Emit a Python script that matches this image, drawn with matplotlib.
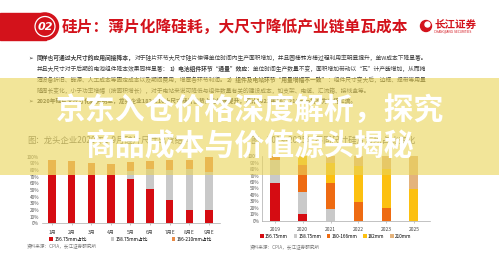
import matplotlib
matplotlib.use("Agg")
import matplotlib.pyplot as plt
from matplotlib.patches import Rectangle, Circle
import numpy as np

plt.rcParams['font.family'] = ['Noto Sans CJK SC', 'DejaVu Sans']

# left chart: monthly share of wafer sizes (%)
months = ["1月", "2月", "3月", "4月", "5月", "6月", "7月E", "8月E", "9月E"]
left_labels = ["156.75mm占比", "158.75mm占比", "166-210mm占比"]
left_156 = [72, 72, 72, 72, 66, 51, 35, 20, 20]
left_158 = [0, 0, 0, 0, 12, 30, 45, 62, 57]
left_166 = [23, 21, 18, 17, 14, 13, 15, 13, 22]

# right chart: yearly share of wafer sizes (%)
years = ["2019", "2020", "2021", "2022", "2023", "2025"]
right_labels = ["156.75mm", "158.75mm", "160-166mm", "182mm", "210mm"]
r_156 = [59, 10, 0, 0, 0, 0]
r_158 = [36, 35, 18, 0, 0, 0]
r_160 = [5, 41, 41, 29, 19, 0]
r_182 = [0, 14, 30, 56, 61, 50]
r_210 = [0, 0, 11, 15, 20, 50]

W, H = 499, 254
fig = plt.figure(figsize=(W / 100, H / 100), dpi=100)
fig.patch.set_facecolor("white")

RED = "#d50c12"
GRAY = "#c9c9c9"


def px_axes(x0, y_top, x1, y_bot, **kw):
    return fig.add_axes([x0 / W, 1 - y_bot / H, (x1 - x0) / W, (y_bot - y_top) / H], **kw)


# background layer in pixel units
bg = fig.add_axes([0, 0, 1, 1], zorder=-1)
bg.set_xlim(0, W)
bg.set_ylim(H, 0)
bg.axis("off")
bg.patch.set_alpha(0)

# header
bg.add_patch(Rectangle((0, 13), 46, 27, color="#d3121b"))
bg.add_patch(Circle((45, 26.5), 13.5, color="#d3121b"))
bg.add_patch(Circle((45, 26.5), 10, facecolor="none", edgecolor="white", lw=0.9))
bg.text(45, 27, "02", color="white", fontsize=8, fontweight="bold", style="italic",
        ha="center", va="center", family="DejaVu Sans")
bg.text(62, 27, "硅片：薄片化降硅耗，大尺寸降低产业链单瓦成本", color="#d3121b",
        fontsize=11.3, fontweight="bold", ha="left", va="center")
# logo
bg.add_patch(Circle((426, 26), 5.5, color="#d3121b"))
bg.add_patch(Circle((427.5, 24.5), 2.5, color="white"))
bg.text(434, 24.5, "长江证券", color="#d3121b", fontsize=7.6, ha="left", va="center",
        fontweight="bold")
bg.text(434, 32, "CHANGJIANG SECURITIES", color="#d3121b", fontsize=2.2, ha="left",
        va="center", family="DejaVu Sans")

renderer = fig.canvas.get_renderer()


def chain(x, y, parts, size=4.15, color="#3a3a3a"):
    for s, w in parts:
        t = bg.text(x, y, s, fontsize=size, fontweight=w, color=color, ha="left", va="center",
                    family=['Noto Sans CJK SC', 'DejaVu Sans'])
        x += t.get_window_extent(renderer=renderer).width


bg.text(28, 58, "➢", fontsize=4, color="#333333", va="center", family="DejaVu Sans")
chain(37, 58, [("同样也可通过大尺寸的应用间接降本，", "bold"),
               ("对于硅片环节大尺寸硅片使得单位时间内生产面积增加，并且圆棒转方棒过程利用率明显提升，单W成本下降显著。", "normal")])
chain(37, 69, [("并且大尺寸对于后期的电池组件降本效果同样显著：", "normal"),
               ("1）电池组件环节“通量”效应", "bold"),
               ("：单位时间生产数量不变，面积增加带动以“瓦”计产能增加，从而摊", "normal")])
chain(37, 80, [("薄设备折旧、能源、人工成本等固定成本以及期间费用，增厚各环节利润。", "normal"),
               ("2）组件及电站环节“用量增幅不一致”", "bold"),
               ("：组件尺寸变大后，边框、焊带等用量", "normal")])
chain(37, 90.5, [("随周长变化，小于功率增幅（按面积增长），对于电站来说可降低与组件数量有关的建设成本，如支架、电缆、汇流箱、接线盒等。", "normal")])
bg.text(28, 101, "➢", fontsize=4, color="#333333", va="center", family="DejaVu Sans")
chain(37, 101, [("2020年硅片大尺寸化趋势明显，龙头企业182/210大尺寸硅片出货占比快速提升，预计2022年182/210mm将成为市场主流。", "bold")])

bg.text(27, 140, "图：龙头企业2020年1-9月硅片尺寸出货结构", fontsize=6, color="#666666",
        va="center")
bg.text(250, 140, "图：2019-2025年不同尺寸硅片市场占比变化", fontsize=6, color="#666666",
        va="center")
bg.text(27, 247, "资料来源：CPIA，长江证券研究所", fontsize=3.3, color="#777777", va="center")
bg.text(250, 248, "资料来源：CPIA，长江证券研究所", fontsize=3.3, color="#777777", va="center")


def style(ax):
    ax.set_ylim(0, 100)
    ax.set_yticks(np.arange(0, 101, 10))
    ax.set_yticklabels([f"{v}%" for v in range(0, 101, 10)])
    ax.tick_params(axis="y", length=0, labelsize=3.4, labelcolor="#555555", pad=2)
    ax.tick_params(axis="x", length=1.5, width=0.4, color="#999999", labelsize=3.6,
                   labelcolor="#444444", pad=3)
    for s in ["top", "right"]:
        ax.spines[s].set_visible(False)
    ax.spines["bottom"].set_color("#aaaaaa")
    ax.spines["bottom"].set_linewidth(0.5)
    ax.patch.set_alpha(0)


# left chart
ax1 = px_axes(41.7, 156.7, 220, 223.3)
x1 = np.arange(len(months))
b1 = np.array(left_156)
b2 = b1 + np.array(left_158)
ax1.bar(x1, left_156, 0.38, color=RED, label=left_labels[0])
ax1.bar(x1, left_158, 0.38, bottom=b1, color=GRAY, label=left_labels[1])
ax1.bar(x1, left_166, 0.38, bottom=b2, color="#e98a45", label=left_labels[2])
ax1.set_xlim(-0.53, 8.57)
ax1.set_xticks(x1)
ax1.set_xticklabels(months)
style(ax1)
ax1.spines["left"].set_visible(False)
ax1.legend(loc="center", bbox_to_anchor=(0.5, -0.236), ncol=3, frameon=False,
           fontsize=3.4, handlelength=0.7, handleheight=0.7, handletextpad=0.4,
           columnspacing=5)

# right chart
ax2 = px_axes(262, 156.3, 430, 220.7)
x2 = np.arange(len(years))
series = [r_156, r_158, r_160, r_182, r_210]
colors = [RED, GRAY, "#ee6b12", "#fcc010", "#e4b37c"]
bottom = np.zeros(len(years))
for vals, c, lab in zip(series, colors, right_labels):
    ax2.bar(x2, vals, 0.33, bottom=bottom, color=c, label=lab)
    bottom += np.array(vals)
ax2.set_xlim(-0.47, 5.58)
ax2.set_xticks(x2)
ax2.set_xticklabels(years)
style(ax2)
ax2.spines["left"].set_color("#aaaaaa")
ax2.spines["left"].set_linewidth(0.5)
ax2.legend(loc="center", bbox_to_anchor=(0.44, -0.24), ncol=5, frameon=False,
           fontsize=3.4, handlelength=0.7, handleheight=0.7, handletextpad=0.3,
           columnspacing=1.2)

# translucent yellow band and overlay headline
top = fig.add_axes([0, 0, 1, 1], zorder=10)
top.set_xlim(0, W)
top.set_ylim(H, 0)
top.axis("off")
top.patch.set_alpha(0)
top.add_patch(Rectangle((0, 78), W, 97, facecolor="#ead55a", alpha=0.62, lw=0))
top.text(250, 110, "京东入仓价格深度解析，探究", color="white", fontsize=21.5,
         fontweight="bold", ha="center", va="center")
top.text(250, 145, "商品成本与价值源头揭秘", color="white", fontsize=21.5,
         fontweight="bold", ha="center", va="center")

fig.savefig("out.png", dpi=100)
